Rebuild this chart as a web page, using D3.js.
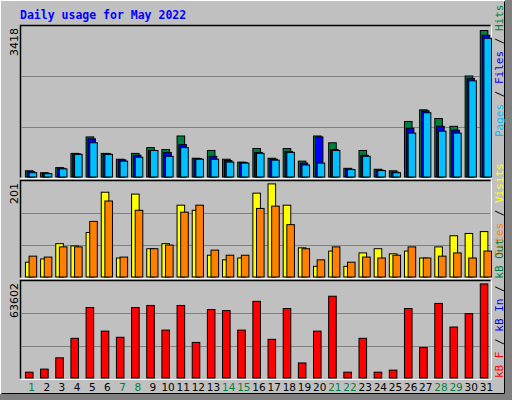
<!DOCTYPE html>
<html><head><meta charset="utf-8">
<script src="https://cdn.jsdelivr.net/npm/d3@7"></script>
<style>body{margin:0;background:#fff}svg{display:block}</style>
</head><body>
<svg id="c" width="512" height="400"></svg>
<script>
const days = d3.range(1, 32);
const weekend = [1,7,8,14,15,21,22,28,29];
const hits  = [145,100,219,551,935,551,415,551,686,641,957,438,619,415,348,664,438,664,370,957,799,203,619,181,145,1296,1567,1364,1183,2357,3418];
const files = [122,84,203,542,890,542,400,506,619,574,754,429,483,384,339,574,415,596,325,935,641,181,506,158,113,1138,1544,1183,1093,2303,3306];
const pages = [99,77,190,528,799,528,370,461,619,483,686,415,415,348,325,551,393,574,280,325,619,174,483,151,99,1025,1499,1070,1025,2244,3238];
const visits = [32,39,72,67,96,183,41,179,61,72,155,144,47,37,41,181,201,155,63,23,56,23,52,61,50,56,41,65,89,94,98];
const sites  = [45,43,65,65,120,164,43,144,61,69,140,155,58,47,47,148,153,113,61,37,65,32,43,41,47,65,41,45,52,41,56];
const kbytes = [3932,6014,13647,26831,47648,31688,27525,47648,49036,32382,49036,24055,46260,45566,32382,51811,26137,46954,10177,31688,55281,3932,26831,3932,5320,46954,20586,50423,34464,43484,63602];

const svg = d3.select('#c');
const font = 'DejaVu Sans Mono, monospace';
svg.append('rect').attr('width',512).attr('height',400).attr('fill','#c0c0c0');
svg.append('path').attr('d','M0.5,399.5V0.5H511.5').attr('stroke','#fff').attr('fill','none');
svg.append('rect').attr('x',505).attr('y',0).attr('width',7).attr('height',400).attr('fill','#808080');
svg.append('rect').attr('x',0).attr('y',394).attr('width',512).attr('height',6).attr('fill','#808080');
svg.append('path').attr('d','M1.5,393.5H504.5V1.5').attr('stroke','#000').attr('fill','none');

svg.append('text').attr('x',20).attr('y',19).attr('fill','#0000ff').attr('font-family',font)
  .attr('font-weight','bold').attr('font-size',11.5).text('Daily usage for May 2022');

const x = d3.scaleBand().domain(days).range([20.7, 490.7]);
const bw = x.bandwidth();
const W = bw*0.5;

function panel(y0, y1, max, label, series, legend, legendY){
  const y = d3.scaleLinear().domain([0, max]).range([y1, y0+ (y1-y0)*0.03]);
  const g = svg.append('g');
  g.append('path').attr('d',`M20.5,${y1+0.5}V${y0-0.5}H490.5`).attr('stroke','#000').attr('fill','none').attr('stroke-width',1.5);
  g.append('path').attr('d',`M20.5,${y1+1.5}H491.5V${y0-0.5}`).attr('stroke','#fff').attr('fill','none');
  const gy = d3.scaleLinear().domain([0,3]).range([y1, y0]);
  [1,2].forEach(k=>g.append('line').attr('x1',21).attr('x2',490).attr('y1',Math.round(gy(k))+0.5).attr('y2',Math.round(gy(k))+0.5).attr('stroke','#808080'));
  series.forEach(s=>{
    g.selectAll(null).data(s.data).enter().append('rect')
      .attr('x',(d,i)=>x(days[i])+bw*s.off+0.5)
      .attr('y',d=>y(d)).attr('width',W).attr('height',d=>y1-y(d))
      .attr('fill',s.color).attr('stroke','#000').attr('stroke-width',1);
  });
  g.append('text').attr('transform',`translate(18,${y0+2}) rotate(-90)`).attr('text-anchor','end')
    .attr('font-family','DejaVu Sans, sans-serif').attr('font-size',11).attr('fill','#000').text(label);
  const t = g.append('text').attr('transform',`translate(503,${legendY}) rotate(-90)`)
    .attr('font-family',font).attr('font-size',11);
  legend.forEach(l=>t.append('tspan').attr('fill',l[1]).text(l[0]));
}

panel(26, 177, 3418, String(d3.max(hits)), [
  {data:hits, color:'#008040', off:0.28},
  {data:files, color:'#0000ff', off:0.4},
  {data:pages, color:'#00c0ff', off:0.52}
], [['Pages','#00c0ff'],[' / ','#000'],['Files','#0000ff'],[' / ','#000'],['Hits','#008040']], 137);

panel(181, 277, 201, String(d3.max(visits)), [
  {data:visits, color:'#ffff00', off:0.28},
  {data:sites, color:'#ff8000', off:0.52}
], [['Sites','#ff8000'],[' / ','#000'],['Visits','#ffff00']], 256);

panel(281, 378, 63602, String(d3.max(kbytes)), [
  {data:kbytes, color:'#ff0000', off:0.28}
], [['kB F','#ff0000'],[' / ','#000'],['kB In','#0000ff'],[' / ','#000'],['kB Out','#008040']], 378);

svg.selectAll('.day').data(days).enter().append('text')
  .attr('x',d=>x(d)+bw*0.72).attr('y',391).attr('text-anchor','middle')
  .attr('font-family','DejaVu Sans, sans-serif').attr('font-size',10.5)
  .attr('fill',d=>weekend.includes(d)?'#008040':'#000').text(d=>d);
</script></body></html>
